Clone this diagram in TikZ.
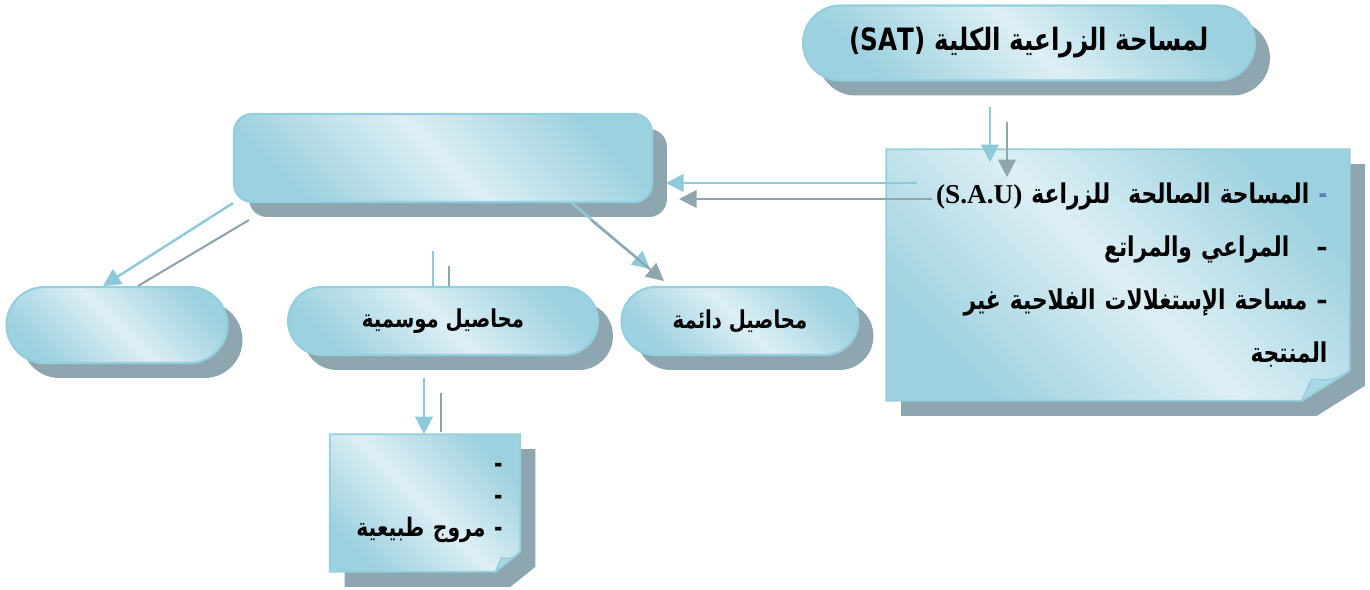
\documentclass[tikz,border=0pt]{standalone}
\usepackage{fontspec}
\setmainfont{Liberation Serif}
\newfontfamily\arabicfont[Script=Arabic, FakeStretch=0.8]{DejaVu Sans}
\TeXXeTstate=1
\usetikzlibrary{arrows.meta,shapes.misc,shadows,backgrounds,positioning}
\definecolor{boxedge}{HTML}{9CD1DF}
\definecolor{boxlight}{HTML}{DDEFF5}
\definecolor{boxline}{HTML}{95CFDE}
\definecolor{foldblue}{HTML}{A9D8E4}
\definecolor{shadowgray}{HTML}{8DA6AF}
\definecolor{linkblue}{HTML}{8CCAD9}
\definecolor{linkgray}{HTML}{8FA6AF}
\definecolor{dashblue}{HTML}{5B7FC0}
\begin{document}
\begin{tikzpicture}[
		x=0.02cm, y=-0.02cm,
		% Define styles for nodes
		boxfill/.style={draw=boxline, line width=1.2pt, top color=boxedge, bottom color=boxedge,
				middle color=boxlight, shading angle=-45},
		boxshadow/.style={drop shadow={shadow xshift=0.3cm, shadow yshift=-0.3cm, fill=shadowgray, opacity=1}},
		pill/.style={boxfill, boxshadow, rounded rectangle, inner sep=0pt,
				font=\arabicfont\bfseries\fontsize{14}{16}\selectfont},
		bigbox/.style={boxfill, boxshadow, rectangle, rounded corners=0.36cm, inner sep=0pt},
		notetext/.style={align=right, inner ysep=0pt, font=\arabicfont\bfseries\fontsize{15.5}{30}\selectfont},
		notebody/.style={boxfill, boxshadow, line width=1pt},
		fold/.style={fill=foldblue, draw=boxline, line width=0.8pt},
		% Define styles for links
		bluelink/.style={draw=linkblue, line width=1.4pt, -{Triangle[length=10pt,width=10pt]}},
		graylink/.style={draw=linkgray, line width=1.2pt, -{Triangle[length=10pt,width=10pt]}}
	]
	\useasboundingbox (0,0) rectangle (1370,589);

	% Top node
	\node[pill, minimum width=9.04cm, minimum height=1.5cm,
		font=\arabicfont\bfseries\fontsize{17.5}{20}\selectfont] (sat) at (1029,43)
		{\beginR لمساحة الزراعية الكلية \beginL(SAT)\endL\endR};

	% Note with the useful area
	\node[notetext, text width=8.38cm, inner xsep=0.44cm, minimum width=9.26cm, minimum height=5.02cm]
		(sau) at (1118,275)
		{\beginR المساحة الصالحة\ \ للزراعة \beginL{\rmfamily(S.A.U)}\endL\endR\ \textcolor{dashblue}{-}\\
			\beginR–\quad المراعي والمراتع\endR\\
			\beginR– مساحة الإستغلالات الفلاحية غير\endR\\
			\beginR المنتجة\endR\\[-8pt]};

	% Empty box on the left
	\node[bigbox, minimum width=8.36cm, minimum height=1.76cm] (crops) at (443,158) {};

	% Second level
	\node[pill, minimum width=4.42cm, minimum height=1.52cm] (other) at (117,325) {};
	\node[pill, minimum width=6.2cm, minimum height=1.36cm] (seasonal) at (443,321)
		{\beginR محاصيل موسمية\endR};
	\node[pill, minimum width=4.74cm, minimum height=1.36cm] (permanent) at (740,321)
		{\beginR محاصيل دائمة\endR};

	% Note with the meadows
	\node[notetext, text width=3.1cm, inner xsep=0.35cm, minimum width=3.8cm, minimum height=2.74cm,
		font=\arabicfont\bfseries\fontsize{14.5}{18}\selectfont] (meadow) at (425,503)
		{\beginR-\endR\\ \beginR-\endR\\ \beginR- مروج طبيعية\endR};

	\begin{scope}[on background layer]
		% Note bodies with a folded corner
		\path[notebody] (sau.north west) -- (sau.north east) -- ([shift={(0,-30)}]sau.south east)
			-- ([shift={(-48,0)}]sau.south east) -- (sau.south west) -- cycle;
		\path[fold] ([shift={(0,-30)}]sau.south east) .. controls ([shift={(-18,-20)}]sau.south east)
			.. ([shift={(-38,-22)}]sau.south east) -- ([shift={(-48,0)}]sau.south east) -- cycle;
		\path[notebody] (meadow.north west) -- (meadow.north east) -- ([shift={(0,-20)}]meadow.south east)
			-- ([shift={(-25,0)}]meadow.south east) -- (meadow.south west) -- cycle;
		\path[fold] ([shift={(0,-20)}]meadow.south east) .. controls ([shift={(-8,-13)}]meadow.south east)
			.. ([shift={(-19,-14)}]meadow.south east) -- ([shift={(-25,0)}]meadow.south east) -- cycle;
	\end{scope}

	% Links, each one with its grey twin
	\draw[bluelink] ([shift={(-39,25)}]sat.south) -- ([shift={(-128,13)}]sau.north);
	\draw[graylink] ([shift={(-22,40)}]sat.south) -- ([shift={(-111,28)}]sau.north);

	\draw[bluelink] ([shift={(31,-92)}]sau.west) -- ([shift={(13,25)}]crops.east);
	\draw[graylink] ([shift={(46,-76)}]sau.west) -- ([shift={(26,41)}]crops.east);

	\draw[bluelink] ([shift={(129,0)}]crops.south) -- ([shift={(-90,-17)}]permanent.north);
	\draw[graylink] ([shift={(148,17)}]crops.south) -- ([shift={(-76,-5)}]permanent.north);

	\draw[bluelink] (crops.south west) -- ([shift={(-14,0)}]other.north);
	\draw[graylink, -] ([shift={(16,17)}]crops.south west) -- ([shift={(21,0)}]other.north);

	\draw[bluelink, -] ([shift={(-10,-35)}]seasonal.north) -- ([shift={(-10,0)}]seasonal.north);
	\draw[graylink, -] ([shift={(6,-20)}]seasonal.north) -- ([shift={(6,0)}]seasonal.north);

	\draw[bluelink] ([shift={(-19,22)}]seasonal.south) -- ([shift={(-1,0)}]meadow.north);
	\draw[graylink, -] ([shift={(-2,37)}]seasonal.south) -- ([shift={(16,-2)}]meadow.north);
\end{tikzpicture}
\end{document}
